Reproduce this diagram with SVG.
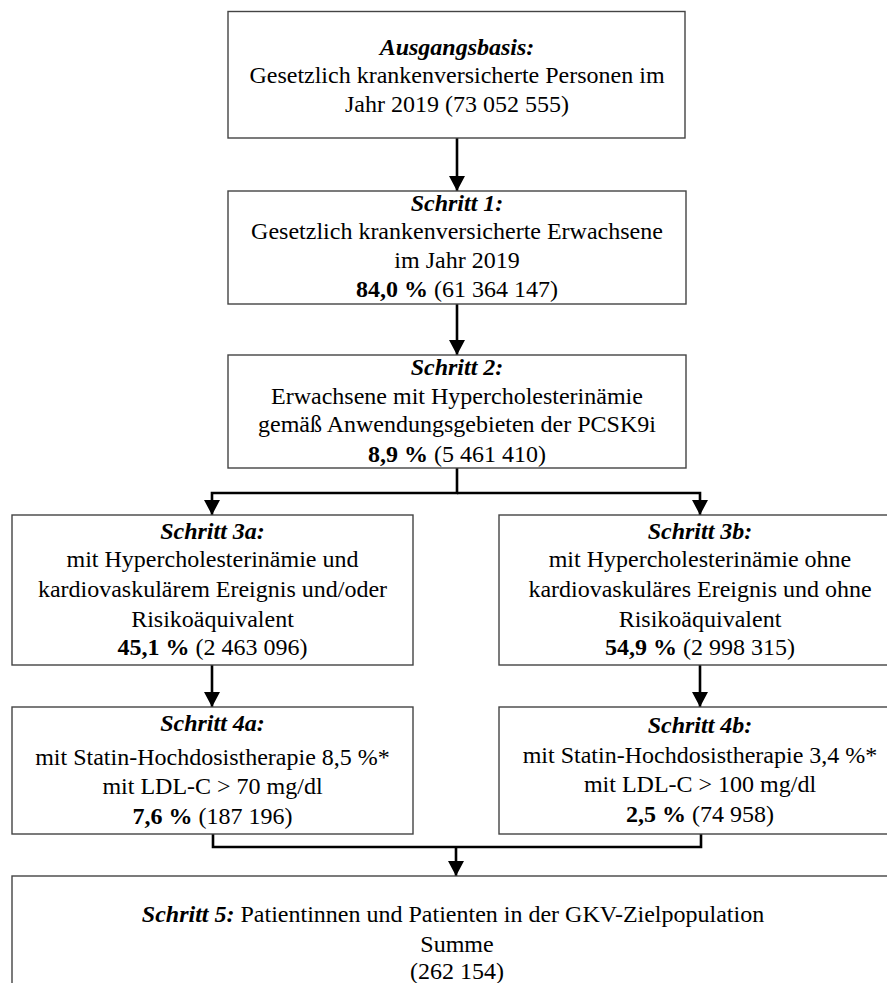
<svg xmlns="http://www.w3.org/2000/svg" width="887" height="983" viewBox="0 0 887 983">
<defs>
<style>
.box{fill:#fff;stroke:#444;stroke-width:1.4}
text{font-family:"Liberation Serif","Times New Roman",serif;font-size:24px;fill:#000;text-anchor:middle}
.bi{font-weight:bold;font-style:italic}
.b{font-weight:bold}
.conn{fill:none;stroke:#000;stroke-width:2.6}
</style>
<marker id="arr" markerUnits="userSpaceOnUse" markerWidth="16" markerHeight="16" viewBox="0 0 15 16" refX="15" refY="8" orient="auto">
<path d="M0,0 L15,8 L0,16 z" fill="#000"/>
</marker>
</defs>
<rect width="887" height="983" fill="#fff"/>
<g id="connectors">
<line class="conn" x1="457" y1="138" x2="457" y2="191" marker-end="url(#arr)"/>
<line class="conn" x1="457" y1="304" x2="457" y2="355" marker-end="url(#arr)"/>
<polyline class="conn" points="457,468 457,493 212,493 212,515" marker-end="url(#arr)"/>
<polyline class="conn" points="457,493 700,493 700,515" marker-end="url(#arr)"/>
<line class="conn" x1="212" y1="665" x2="212" y2="707" marker-end="url(#arr)"/>
<line class="conn" x1="700" y1="665" x2="700" y2="707" marker-end="url(#arr)"/>
<polyline class="conn" points="213,834 213,847 701,847 701,834"/>
<line class="conn" x1="456" y1="847" x2="456" y2="876" marker-end="url(#arr)"/>
</g>
<g id="ausgangsbasis">
<rect class="box" x="228" y="11.5" width="457" height="126.5"/>
<text x="457" y="55" class="bi">Ausgangsbasis:</text>
<text x="457" y="83">Gesetzlich krankenversicherte Personen im</text>
<text x="457" y="112">Jahr 2019 (73 052 555)</text>
</g>
<g id="schritt1">
<rect class="box" x="228" y="191" width="458" height="113"/>
<text x="457" y="211" class="bi">Schritt 1:</text>
<text x="457" y="239">Gesetzlich krankenversicherte Erwachsene</text>
<text x="457" y="268">im Jahr 2019</text>
<text x="457" y="297"><tspan class="b">84,0 %</tspan> (61 364 147)</text>
</g>
<g id="schritt2">
<rect class="box" x="228" y="355" width="458" height="113"/>
<text x="457" y="375" class="bi">Schritt 2:</text>
<text x="457" y="404">Erwachsene mit Hypercholesterinämie</text>
<text x="457" y="432">gemäß Anwendungsgebieten der PCSK9i</text>
<text x="457" y="462"><tspan class="b">8,9 %</tspan> (5 461 410)</text>
</g>
<g id="schritt3a">
<rect class="box" x="12" y="515" width="401" height="150"/>
<text x="212.5" y="539" class="bi">Schritt 3a:</text>
<text x="212.5" y="567">mit Hypercholesterinämie und</text>
<text x="212.5" y="597">kardiovaskulärem Ereignis und/oder</text>
<text x="212.5" y="627">Risikoäquivalent</text>
<text x="212.5" y="655"><tspan class="b">45,1 %</tspan> (2 463 096)</text>
</g>
<g id="schritt3b">
<rect class="box" x="499" y="515" width="402" height="150"/>
<text x="700" y="539" class="bi">Schritt 3b:</text>
<text x="700" y="567">mit Hypercholesterinämie ohne</text>
<text x="700" y="597">kardiovaskuläres Ereignis und ohne</text>
<text x="700" y="627">Risikoäquivalent</text>
<text x="700" y="655"><tspan class="b">54,9 %</tspan> (2 998 315)</text>
</g>
<g id="schritt4a">
<rect class="box" x="12" y="707" width="401" height="127"/>
<text x="212.5" y="731" class="bi">Schritt 4a:</text>
<text x="212.5" y="765">mit Statin-Hochdosistherapie 8,5 %*</text>
<text x="212.5" y="794">mit LDL-C &gt; 70 mg/dl</text>
<text x="212.5" y="824"><tspan class="b">7,6 %</tspan> (187 196)</text>
</g>
<g id="schritt4b">
<rect class="box" x="499" y="707" width="402" height="127"/>
<text x="700" y="733" class="bi">Schritt 4b:</text>
<text x="700" y="763">mit Statin-Hochdosistherapie 3,4 %*</text>
<text x="700" y="792">mit LDL-C &gt; 100 mg/dl</text>
<text x="700" y="822"><tspan class="b">2,5 %</tspan> (74 958)</text>
</g>
<g id="schritt5">
<rect class="box" x="12" y="876" width="890" height="150"/>
<text x="453" y="922"><tspan class="bi">Schritt 5:</tspan> Patientinnen und Patienten in der GKV-Zielpopulation</text>
<text x="457" y="952">Summe</text>
<text x="457" y="979">(262 154)</text>
</g>
</svg>
